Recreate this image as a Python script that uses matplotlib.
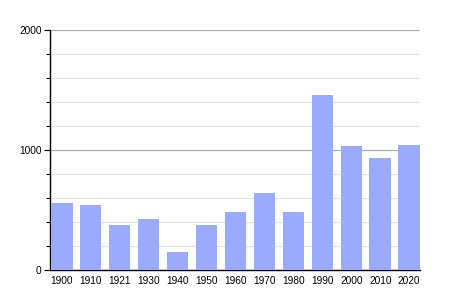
import matplotlib

matplotlib.use("Agg")
import matplotlib.pyplot as plt
from matplotlib.ticker import MultipleLocator

years = ["1900", "1910", "1921", "1930", "1940", "1950", "1960",
         "1970", "1980", "1990", "2000", "2010", "2020"]
population = [558, 542, 375, 425, 150, 375, 483, 642, 483, 1458, 1033, 933, 1042]

plt.rcParams["font.family"] = ["Liberation Sans", "DejaVu Sans"]

fig = plt.figure(figsize=(4.5, 3), dpi=100)
ax = fig.add_axes([0.111, 0.1, 0.822, 0.8])

x = range(len(years))
ax.bar(x, population, width=0.74, color="#99aaff", zorder=3)

ax.set_ylim(0, 2000)
ax.set_xlim(-0.41, len(years) - 1 + 0.37)
ax.yaxis.set_major_locator(MultipleLocator(1000))
ax.yaxis.set_minor_locator(MultipleLocator(200))
ax.grid(True, which="major", axis="y", color="#aaaaaa", linewidth=0.9, zorder=1)
ax.grid(True, which="minor", axis="y", color="#e2e2e2", linewidth=0.9, zorder=1)

ax.set_xticks(list(x))
ax.set_xticklabels(years)
ax.tick_params(axis="x", length=0, labelsize=7.3, pad=4)
ax.tick_params(axis="y", which="major", length=4, width=0.8, labelsize=7.3, pad=2)
ax.tick_params(axis="y", which="minor", length=3, width=0.8)

for side in ("top", "right"):
    ax.spines[side].set_visible(False)
ax.spines["left"].set_linewidth(1.0)
ax.spines["bottom"].set_linewidth(1.0)

fig.savefig("out.png", dpi=100)
plt.close(fig)
